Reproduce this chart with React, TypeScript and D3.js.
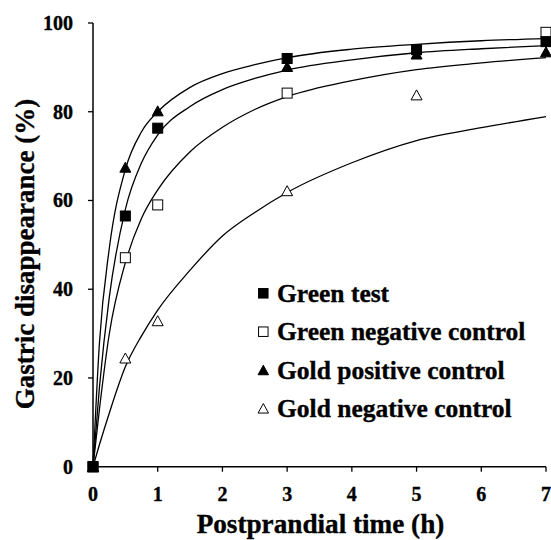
import React from "react";
import * as d3 from "d3";

// Fitted curves
const fitTimes = [0, 0.1, 0.25, 0.5, 0.75, 1, 1.5, 2, 2.5, 3, 4, 5, 6, 7];
const fitA = [0, 28, 49, 67, 75.5, 80, 85.5, 88.6, 90.6, 92.2, 94.1, 95.2, 96, 96.5];
const fitB = [0, 18, 38, 58, 68.5, 74.8, 81.2, 85, 87.5, 89.4, 91.7, 93.3, 94.2, 94.9];
const fitC = [0, 13, 29.8, 46, 56, 62.4, 71, 76.5, 80.5, 83.4, 87, 89.5, 91, 92.2];
const fitD = [0, 5, 12, 22.5, 29.5, 35.3, 44.3, 52, 57.3, 61.8, 68.5, 73.5, 76.4, 78.9];

// Observed points
const greenTestT = [0, 0.5, 1, 3, 5, 7];
const greenTest = [0, 56.5, 76.3, 92, 94, 95.8];
const greenNegT = [0, 0.5, 1, 3, 7];
const greenNeg = [0, 47.1, 59, 84.2, 97.9];
const goldPosT = [0, 0.5, 1, 3, 5, 7];
const goldPos = [0, 67.5, 80.2, 90.2, 93, 93.5];
const goldNegT = [0, 0.5, 1, 3, 5];
const goldNeg = [0, 24.5, 32.9, 62.2, 83.8];

const xTicks = [0, 1, 2, 3, 4, 5, 6, 7];
const yTicks = [0, 20, 40, 60, 80, 100];
const legendLabels = [
  "Green test",
  "Green negative control",
  "Gold positive control",
  "Gold negative control",
];
const legendShapes = ["fsq", "osq", "ftri", "otri"];

const FONT = '"Liberation Serif", "Times New Roman", "DejaVu Serif", serif';

function Marker({ shape, cx, cy, s }: { shape: string; cx: number; cy: number; s: number }) {
  const h = s / 2;
  if (shape === "fsq" || shape === "osq") {
    return (
      <rect
        x={cx - h}
        y={cy - h}
        width={s}
        height={s}
        fill={shape === "fsq" ? "#000" : "#fff"}
        stroke="#000"
        strokeWidth={1}
      />
    );
  }
  const w = s * 1.1;
  const p = `M${cx},${cy - h} L${cx + w / 2},${cy + h} L${cx - w / 2},${cy + h} Z`;
  return <path d={p} fill={shape === "ftri" ? "#000" : "#fff"} stroke="#000" strokeWidth={1} />;
}

export default function App() {
  const x = d3.scaleLinear().domain([0, 7]).range([93, 546]);
  const y = d3.scaleLinear().domain([0, 100]).range([466.7, 23]);
  const line = d3
    .line<[number, number]>()
    .x((d) => x(d[0]))
    .y((d) => y(d[1]))
    .curve(d3.curveMonotoneX);
  const fits = [fitA, fitB, fitC, fitD];
  const series = [
    { t: greenNegT, v: greenNeg, shape: "osq" },
    { t: goldNegT, v: goldNeg, shape: "otri" },
    { t: goldPosT, v: goldPos, shape: "ftri" },
    { t: greenTestT, v: greenTest, shape: "fsq" },
  ];
  const legendY = [293.3, 331.7, 370, 408.3];
  const txt = {
    fontFamily: FONT,
    fontWeight: 700,
    stroke: "#000",
    strokeWidth: 0.35,
  } as React.CSSProperties;

  return (
    <svg
      width={551}
      height={540}
      style={{ position: "absolute", left: 0, top: 0, background: "#fff" }}
    >
      <rect x={0} y={0} width={551} height={540} fill="#fff" />
      {/* fitted curves */}
      {fits.map((f, i) => (
        <path
          key={i}
          d={line(fitTimes.map((t, j) => [t, f[j]] as [number, number])) || ""}
          fill="none"
          stroke="#000"
          strokeWidth={1.3}
        />
      ))}
      {/* axes */}
      <line x1={x(0)} x2={x(0)} y1={y(0)} y2={y(100)} stroke="#000" strokeWidth={1.5} />
      <line x1={x(0)} x2={x(7)} y1={y(0)} y2={y(0)} stroke="#000" strokeWidth={1.5} />
      {yTicks.map((v) => (
        <g key={"y" + v}>
          <line x1={x(0) - 5} x2={x(0)} y1={y(v)} y2={y(v)} stroke="#000" strokeWidth={1.3} />
          <text x={73} y={y(v) + 7} textAnchor="end" style={{ ...txt, fontSize: 20 }}>
            {v}
          </text>
        </g>
      ))}
      {xTicks.map((v) => (
        <g key={"x" + v}>
          <line x1={x(v)} x2={x(v)} y1={y(0)} y2={y(0) + 5} stroke="#000" strokeWidth={1.3} />
          <text x={x(v)} y={500.7} textAnchor="middle" style={{ ...txt, fontSize: 20 }}>
            {v}
          </text>
        </g>
      ))}
      {/* markers */}
      {series.map((s, i) =>
        s.t.map((t, j) => (
          <Marker key={i + "-" + j} shape={s.shape} cx={x(t)} cy={y(s.v[j])} s={10} />
        ))
      )}
      {/* legend */}
      {legendLabels.map((lab, i) => (
        <g key={"l" + i}>
          <Marker shape={legendShapes[i]} cx={263.3} cy={legendY[i]} s={9.5} />
          <text x={277} y={legendY[i] + 8.6} style={{ ...txt, fontSize: 25.5 }}>
            {lab}
          </text>
        </g>
      ))}
      {/* axis titles */}
      <text x={320.5} y={533} textAnchor="middle" style={{ ...txt, fontSize: 27.2 }}>
        Postprandial time (h)
      </text>
      <text
        transform={`translate(34,254) rotate(-90)`}
        textAnchor="middle"
        style={{ ...txt, fontSize: 27 }}
      >
        Gastric disappearance (%)
      </text>
    </svg>
  );
}
